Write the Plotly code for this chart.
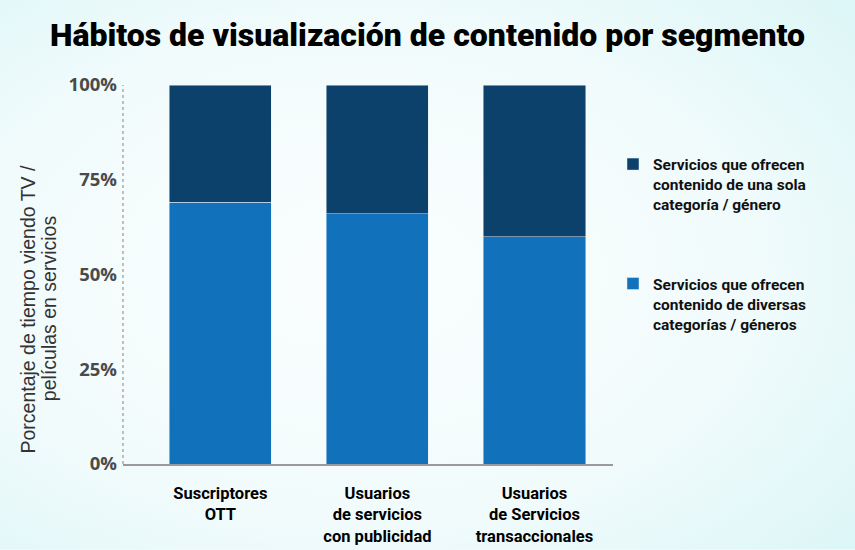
import base64
import plotly.graph_objects as go

# datos (porcentaje del tiempo)
segmentos = ["Suscriptores<br>OTT",
             "Usuarios<br>de servicios<br>con publicidad",
             "Usuarios<br>de Servicios<br>transaccionales"]
diversas = [69, 66, 60]
una_sola = [31, 34, 40]

nombre_diversas = "Servicios que ofrecen<br>contenido de diversas<br>categorías / géneros"
nombre_una_sola = "Servicios que ofrecen<br>contenido de una sola<br>categoría / género"

y_ticks = [0, 25, 50, 75, 100]
y_labels = ["0%", "25%", "50%", "75%", "100%"]

narrow = "Roboto, Liberation Sans, sans-serif"

# fondo con degradado suave
svg = """<svg xmlns='http://www.w3.org/2000/svg' width='855' height='550'>
<defs><radialGradient id='g' cx='0.42' cy='0.5' r='0.75'>
<stop offset='0' stop-color='#fbfefe'/><stop offset='0.6' stop-color='#f1fbfc'/>
<stop offset='1' stop-color='#ddf6f7'/></radialGradient></defs>
<rect width='855' height='550' fill='url(#g)'/></svg>"""
bg = "data:image/svg+xml;base64," + base64.b64encode(svg.encode()).decode()

fig = go.Figure()
fig.add_trace(go.Bar(x=segmentos, y=diversas, name=nombre_diversas,
                     marker_color="#1172bb", legendgroup="a", legendrank=2))
fig.add_trace(go.Bar(x=segmentos, y=una_sola, name=nombre_una_sola,
                     marker_color="#0c416b", legendgroup="b", legendrank=1))

fig.update_layout(
    width=855, height=550,
    barmode="stack", bargap=0.35,
    paper_bgcolor="#eefafb", plot_bgcolor="rgba(0,0,0,0)",
    margin=dict(l=123, r=242, t=85, b=86, autoexpand=False),
    title=dict(text="Hábitos de visualización de contenido por segmento",
               x=0.5, xanchor="center", y=0.937, yanchor="middle",
               font=dict(family=narrow, size=32, color="#000", weight=900)),
    legend=dict(x=1.0, y=0.835, xanchor="left", yanchor="top",
                traceorder="grouped", tracegroupgap=56, valign="top",
                font=dict(family=narrow, size=15.5, color="#111", weight="bold"),
                bgcolor="rgba(0,0,0,0)", itemwidth=30),
    images=[dict(source=bg, xref="paper", yref="paper", x=-0.251, y=1.224,
                 sizex=1.745, sizey=1.449, sizing="stretch", layer="below",
                 xanchor="left", yanchor="top")],
    showlegend=True,
)

fig.update_xaxes(range=[-0.62, 2.5], showline=True, linecolor="#9a9a9a", linewidth=2,
                 ticks="", showgrid=False, ticklabelstandoff=13, automargin=False,
                 tickfont=dict(family=narrow, size=16.5, color="#000", weight="bold"))
fig.update_yaxes(range=[0, 100], tickvals=y_ticks, ticktext=y_labels, showgrid=False,
                 zeroline=False, ticks="", ticklabelstandoff=5, automargin=False,
                 tickfont=dict(family="Open Sans, Arial, sans-serif", size=18.5,
                               color="#4a4a4a", weight="bold"))

# eje vertical punteado
fig.add_shape(type="line", xref="x domain", yref="y", x0=0, x1=0, y0=0, y1=100,
              line=dict(color="#aaaaaa", width=1.5, dash="dot"))

# titulo del eje y en dos lineas juntas
for texto, xp in [("Porcentaje de tiempo viendo TV /", -0.194),
                  ("películas en servicios", -0.152)]:
    fig.add_annotation(text=texto, xref="paper", yref="paper", x=xp, y=0.41,
                       textangle=-90, showarrow=False, xanchor="center",
                       yanchor="middle",
                       font=dict(family="Liberation Sans, Arial, sans-serif",
                                 size=19.5, color="#333"))

fig.write_html("out.html", config={"displayModeBar": False},
               post_script="document.body.style.margin='0';")
